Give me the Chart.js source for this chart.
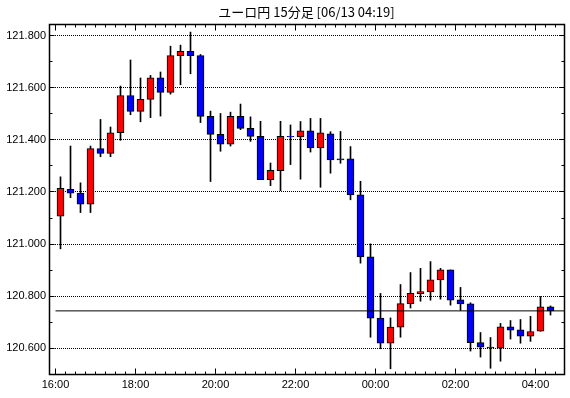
<!DOCTYPE html>
<html>
<head>
<meta charset="utf-8">
<script src="https://cdn.jsdelivr.net/npm/chart.js@4"></script>
<style>
  html, body { margin: 0; padding: 0; background: #fff; }
  #wrap { width: 570px; height: 398px; }
</style>
</head>
<body>
<div id="wrap"><canvas id="candle-chart" width="570" height="398"></canvas></div>
<script>
// 15 minute candles from 16:00 to 04:15
const opens = [
  121.107, 121.210, 121.196, 121.153, 121.366, 121.348, 121.427, 121.570, 121.509, 121.555,
  121.638, 121.582, 121.723, 121.739, 121.723, 121.490, 121.421, 121.383, 121.490, 121.444,
  121.413, 121.247, 121.282, 121.413, 121.411, 121.434, 121.369, 121.423, 121.327, 121.327,
  121.189, 120.951, 120.716, 120.620, 120.682, 120.772, 120.810, 120.817, 120.863, 120.901,
  120.786, 120.771, 120.622, 120.605, 120.601, 120.683, 120.671, 120.647, 120.666, 120.760
];
const highs = [
  121.258, 121.376, 121.235, 121.376, 121.478, 121.449, 121.606, 121.706, 121.637, 121.647,
  121.660, 121.759, 121.763, 121.813, 121.727, 121.510, 121.501, 121.506, 121.537, 121.488,
  121.471, 121.311, 121.471, 121.457, 121.470, 121.482, 121.482, 121.431, 121.432, 121.374,
  121.241, 121.001, 120.811, 120.717, 120.845, 120.891, 120.907, 120.933, 120.907, 120.901,
  120.834, 120.775, 120.661, 120.642, 120.696, 120.707, 120.711, 120.723, 120.799, 120.763
];
const lows = [
  120.982, 121.178, 121.121, 121.121, 121.335, 121.335, 121.398, 121.496, 121.469, 121.485,
  121.491, 121.575, 121.611, 121.653, 121.466, 121.240, 121.356, 121.376, 121.439, 121.394,
  121.247, 121.224, 121.205, 121.305, 121.249, 121.353, 121.218, 121.272, 121.310, 121.170,
  120.927, 120.643, 120.599, 120.522, 120.643, 120.755, 120.781, 120.785, 120.789, 120.766,
  120.746, 120.590, 120.567, 120.524, 120.551, 120.636, 120.620, 120.627, 120.666, 120.728
];
const closes = [
  121.214, 121.195, 121.153, 121.366, 121.348, 121.427, 121.570, 121.509, 121.555, 121.638,
  121.582, 121.723, 121.739, 121.723, 121.490, 121.421, 121.383, 121.490, 121.444, 121.413,
  121.247, 121.283, 121.413, 121.411, 121.434, 121.369, 121.427, 121.323, 121.323, 121.189,
  120.951, 120.716, 120.620, 120.682, 120.772, 120.811, 120.818, 120.863, 120.901, 120.785,
  120.771, 120.622, 120.605, 120.602, 120.683, 120.670, 120.647, 120.665, 120.760, 120.744
];
const timeLabels = ['16:00', '18:00', '20:00', '22:00', '00:00', '02:00', '04:00'];
const priceTicks = [120.6, 120.8, 121.0, 121.2, 121.4, 121.6, 121.8];

const canvas = document.getElementById('candle-chart');
const SLOTS_PER_LABEL = 8;
const UP = '#ff0000';
const DOWN = '#0000ff';
const lastPrice = closes[closes.length - 1];

const bodies = opens.map((o, i) => ({ x: i + 0.5, y: [o, closes[i]] }));
const wicks = lows.map((l, i) => ({ x: i + 0.5, y: [l, highs[i]] }));

// dotted grid, frame and tick marks drawn on the library scales
const framePlugin = {
  id: 'frame',
  beforeDatasetsDraw(chart) {
    const { ctx, chartArea: a, scales } = chart;
    ctx.save();
    ctx.strokeStyle = '#000';
    ctx.lineWidth = 1;
    ctx.setLineDash([1, 1]);
    priceTicks.forEach(v => {
      const py = Math.floor(scales.y.getPixelForValue(v)) + 0.5;
      ctx.beginPath();
      ctx.moveTo(a.left, py);
      ctx.lineTo(a.right, py);
      ctx.stroke();
    });
    ctx.restore();
  },
  afterDatasetsDraw(chart) {
    const { ctx, chartArea: a, scales } = chart;
    const l = a.left + 0.5, r = a.right + 0.5, t = a.top + 0.5, b = a.bottom + 0.5;
    ctx.save();
    ctx.strokeStyle = '#000';
    ctx.lineWidth = 1;
    ctx.beginPath();
    for (let s = 0; s <= opens.length; s++) {
      const px = Math.floor(scales.x.getPixelForValue(s)) + 0.5;
      const len = s % SLOTS_PER_LABEL === 0 ? 6 : 3;
      ctx.moveTo(px, b); ctx.lineTo(px, b - len);
      ctx.moveTo(px, t); ctx.lineTo(px, t + len);
    }
    for (let k = 1; k <= 13; k++) {
      const py = Math.floor(scales.y.getPixelForValue(120.5 + k * 0.1)) + 0.5;
      const len = k % 2 === 1 ? 5 : 3;
      ctx.moveTo(l, py); ctx.lineTo(l + len, py);
      ctx.moveTo(r, py); ctx.lineTo(r - len, py);
    }
    ctx.stroke();
    ctx.lineWidth = 1.5;
    ctx.strokeRect(l, t, r - l, b - t);
    ctx.restore();
  }
};

new Chart(canvas, {
  type: 'bar',
  data: {
    datasets: [
      {
        type: 'line',
        data: [{ x: 0, y: lastPrice }, { x: 50.85, y: lastPrice }],
        borderColor: '#000',
        borderWidth: 1,
        pointRadius: 0,
        order: 0
      },
      {
        data: bodies,
        grouped: false,
        barThickness: 7,
        backgroundColor: ctx => (closes[ctx.dataIndex] >= opens[ctx.dataIndex] ? UP : DOWN),
        borderColor: '#000',
        borderWidth: 1,
        borderSkipped: false,
        order: 1
      },
      {
        data: wicks,
        grouped: false,
        barThickness: 1,
        backgroundColor: '#000',
        borderWidth: 0,
        order: 2
      }
    ]
  },
  options: {
    responsive: false,
    animation: false,
    layout: { padding: { left: 0, right: 6, top: 0, bottom: 0 } },
    plugins: {
      legend: { display: false },
      tooltip: { enabled: false },
      title: {
        display: true,
        fullSize: false,
        text: 'ユーロ円 15分足 [06/13 04:19]',
        color: '#000',
        font: { family: "'Noto Sans CJK JP', sans-serif", size: 13, weight: 'normal' },
        padding: { top: 4, bottom: 4.4 }
      }
    },
    scales: {
      x: {
        type: 'linear',
        min: -0.65,
        max: 50.85,
        offset: false,
        grid: { display: false, drawTicks: false },
        border: { display: false },
        afterBuildTicks: scale => {
          scale.ticks = timeLabels.map((_, i) => ({ value: i * SLOTS_PER_LABEL }));
        },
        afterFit: scale => { scale.height = 24; },
        ticks: {
          padding: 4,
          maxRotation: 0,
          autoSkip: false,
          color: '#000',
          font: { family: "'Liberation Sans', sans-serif", size: 11 },
          callback: v => timeLabels[Math.round(v / SLOTS_PER_LABEL)]
        }
      },
      y: {
        min: 120.502,
        max: 121.844,
        grid: { display: false, drawTicks: false },
        border: { display: false },
        afterBuildTicks: scale => {
          scale.ticks = priceTicks.map(v => ({ value: v }));
        },
        afterFit: scale => { scale.width = 49; },
        ticks: {
          padding: 3,
          color: '#000',
          font: { family: "'Liberation Sans', sans-serif", size: 11 },
          callback: v => v.toFixed(3)
        }
      }
    }
  },
  plugins: [framePlugin]
});
</script>
</body>
</html>
